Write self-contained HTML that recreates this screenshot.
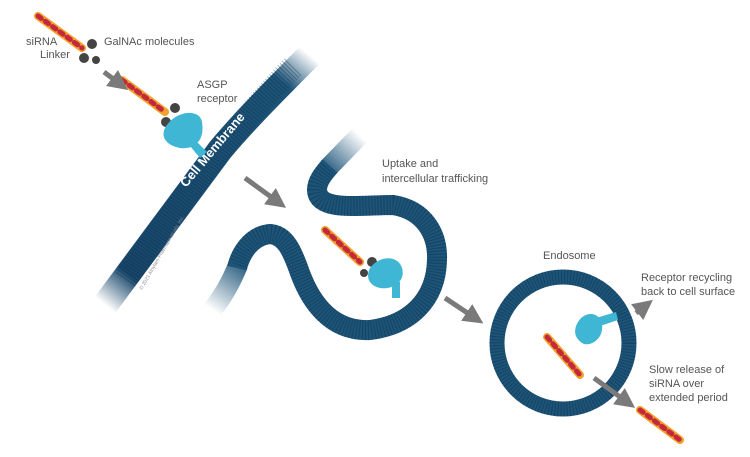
<!DOCTYPE html>
<html><head><style>
body{margin:0;background:#fff;}
svg{display:block;font-family:"Liberation Sans",sans-serif;}
text{fill:#555;font-size:11px;}
</style></head><body>
<svg width="750" height="457" viewBox="0 0 750 457">
<defs>
<linearGradient id="fade" gradientUnits="userSpaceOnUse" x1="310" y1="55" x2="105" y2="305">
<stop offset="0" stop-color="#1d5478" stop-opacity="0"/>
<stop offset="0.12" stop-color="#1d5478" stop-opacity="1"/>
<stop offset="0.88" stop-color="#17466a" stop-opacity="1"/>
<stop offset="1" stop-color="#17466a" stop-opacity="0"/>
</linearGradient>
<linearGradient id="fade2" gradientUnits="userSpaceOnUse" x1="360" y1="135" x2="325" y2="172">
<stop offset="0" stop-color="#1d5478" stop-opacity="0"/>
<stop offset="1" stop-color="#1d5478" stop-opacity="1"/>
</linearGradient>
<linearGradient id="fade3" gradientUnits="userSpaceOnUse" x1="245" y1="262" x2="212" y2="310">
<stop offset="0" stop-color="#1d5478" stop-opacity="1"/>
<stop offset="1" stop-color="#1d5478" stop-opacity="0"/>
</linearGradient>
<marker id="ah" markerWidth="4" markerHeight="4" refX="2" refY="2" orient="auto"><path d="M0,0 L4,2 L0,4z" fill="#7a7a7a"/></marker>
</defs>
<!-- main membrane -->
<path d="M310,55 C280,85 245,120 220,150 C190,190 150,245 105,305" stroke="url(#fade)" stroke-width="26" fill="none"/>
<path d="M293,67 C270,90 245,120 220,150 C190,190 160,230 125,280" stroke="#0b2c45" stroke-width="24" fill="none" stroke-dasharray="1 2" opacity="0.35"/>
<text transform="translate(186,188) rotate(-50)" style="fill:#fff;font-size:13px;font-weight:bold">Cell Membrane</text>
<text transform="translate(142,290) rotate(-60)" style="fill:#889;font-size:5px">© 2021 Alnylam Pharmaceuticals, Inc.</text>
<!-- S membrane -->
<path d="M330,166 C322,175 317,182 317,190 C318,212 360,205 393,205 C425,210 438,235 437,260 C436,300 410,325 370,330 C330,332 310,300 300,273 C292,250 285,235 270,234 C250,236 240,255 237,268" stroke="#1d5478" stroke-width="20" fill="none"/>
<path d="M330,166 C322,175 317,182 317,190 C318,212 360,205 393,205 C425,210 438,235 437,260 C436,300 410,325 370,330 C330,332 310,300 300,273 C292,250 285,235 270,234 C250,236 240,255 237,268" stroke="#0b2c45" stroke-width="20" fill="none" stroke-dasharray="1 2" opacity="0.4"/>
<path d="M360,135 L328,168" stroke="url(#fade2)" stroke-width="20" fill="none"/>
<path d="M238,265 C230,285 222,298 212,310" stroke="url(#fade3)" stroke-width="20" fill="none"/>
<!-- endosome -->
<circle cx="563" cy="343" r="66" stroke="#1d5478" stroke-width="15" fill="none"/>
<circle cx="563" cy="343" r="66" stroke="#0b2c45" stroke-width="15" fill="none" stroke-dasharray="1 2" opacity="0.4"/>
<!-- siRNA strands -->
<g stroke-width="8" fill="none" stroke-linecap="round">
<path d="M38,16 L82,48" stroke="#f2a12a"/><path d="M38,16 L82,48" stroke="#c4283c" stroke-dasharray="4 5" stroke-width="5"/>
<path d="M122,80 L165,112" stroke="#f2a12a"/><path d="M122,80 L165,112" stroke="#c4283c" stroke-dasharray="4 5" stroke-width="5"/>
<path d="M325,230 L360,262" stroke="#f2a12a"/><path d="M325,230 L360,262" stroke="#c4283c" stroke-dasharray="4 5" stroke-width="5"/>
<path d="M547,337 L580,375" stroke="#f2a12a"/><path d="M547,337 L580,375" stroke="#c4283c" stroke-dasharray="4 5" stroke-width="5"/>
<path d="M640,410 L680,440" stroke="#f2a12a"/><path d="M640,410 L680,440" stroke="#c4283c" stroke-dasharray="4 5" stroke-width="5"/>
</g>
<!-- GalNAc -->
<g fill="#444">
<circle cx="92" cy="44" r="5"/><circle cx="84" cy="58" r="5"/><circle cx="96" cy="60" r="4"/>
<circle cx="175" cy="108" r="5"/><circle cx="166" cy="122" r="5"/><circle cx="178" cy="122" r="4"/>
<circle cx="372" cy="262" r="5"/><circle cx="364" cy="273" r="4"/>
</g>
<!-- receptors -->
<g fill="#3fb7d4">
<path d="M165,128 C175,110 200,108 202,122 C205,140 195,150 180,148 C168,146 160,138 165,128z"/>
<path d="M195,140 L207,152 L200,158 L190,146z"/>
<path d="M370,268 C380,255 398,255 402,268 C406,282 392,290 380,288 C370,286 365,278 370,268z"/>
<rect x="392" y="282" width="8" height="16"/>
<path d="M578,322 C585,310 600,312 602,324 C604,338 592,346 584,344 C576,340 572,332 578,322z"/>
<path d="M596,318 L616,312 L618,320 L600,326z"/>
</g>
<!-- arrows -->
<g stroke="#7a7a7a" stroke-width="5" marker-end="url(#ah)">
<line x1="104" y1="72" x2="120" y2="84"/>
<line x1="245" y1="178" x2="278" y2="202"/>
<line x1="445" y1="298" x2="475" y2="318"/>
<line x1="594" y1="378" x2="627" y2="402"/>
<line x1="636" y1="313" x2="645" y2="306"/>
</g>
<text x="26" y="45">siRNA</text>
<text x="40" y="58">Linker</text>
<text x="104" y="45">GalNAc molecules</text>
<text x="197" y="88">ASGP</text>
<text x="197" y="102">receptor</text>
<text x="382" y="167">Uptake and</text>
<text x="382" y="182">intercellular trafficking</text>
<text x="543" y="259">Endosome</text>
<text x="641" y="281">Receptor recycling</text>
<text x="641" y="295">back to cell surface</text>
<text x="649" y="373">Slow release of</text>
<text x="649" y="387">siRNA over</text>
<text x="649" y="401">extended period</text>
</svg>
</body></html>
